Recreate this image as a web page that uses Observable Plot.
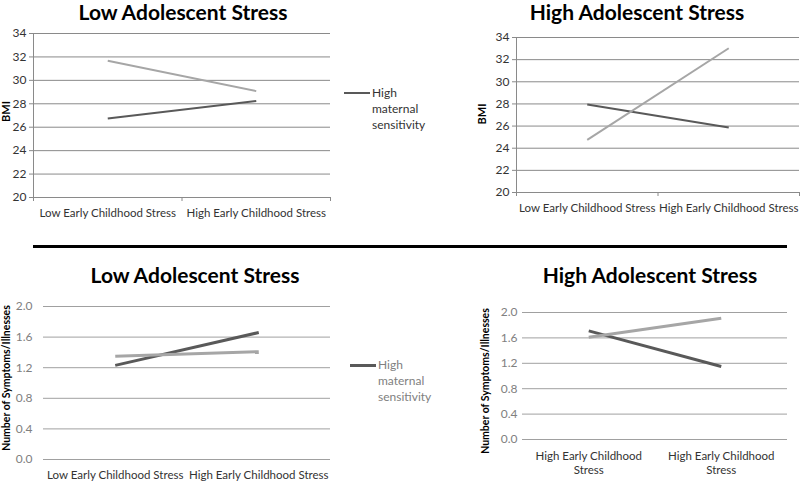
<!DOCTYPE html>
<html><head><meta charset="utf-8">
<script src="https://cdn.jsdelivr.net/npm/d3@7"></script>
<script src="https://cdn.jsdelivr.net/npm/@observablehq/plot@0.6"></script>
<style>
body{margin:0;background:#fff;font-family:Lato,"Open Sans",sans-serif}
#chart{position:relative;width:800px;height:482px;overflow:hidden;background:#fff}
.panel{position:absolute}
.title{position:absolute;transform:translate(-50%,-50%);font-weight:bold;font-size:21px;white-space:nowrap;color:#000;line-height:1;font-family:Lato,sans-serif}
.legend{position:absolute;display:flex;align-items:flex-start;font-size:12px;line-height:16px;font-family:Lato,sans-serif}
.legend .sw{display:inline-block;width:26px;margin-right:2px}
.legend .tx{width:62px}
.sep{position:absolute;background:#000}
</style>
</head><body>
<div id="chart"></div>
<script>
// ---- data ----
const categories = ["Low Early Childhood Stress", "High Early Childhood Stress"];
const categoriesP4 = ["High Early Childhood Stress", "High Early Childhood Stress"];
const seriesNames = ["High maternal sensitivity", "Low maternal sensitivity"];
const titles = ["Low Adolescent Stress", "High Adolescent Stress", "Low Adolescent Stress", "High Adolescent Stress"];
const yTitleBMI = "BMI";
const yTitleSym = "Number of Symptoms/Illnesses";
const bmiTicks = [20, 22, 24, 26, 28, 30, 32, 34];
const symTicks = [0, 0.4, 0.8, 1.2, 1.6, 2.0];
const bmiLowAdolHigh = [26.75, 28.24];
const bmiLowAdolLow = [31.67, 29.08];
const bmiHighAdolHigh = [27.95, 25.87];
const bmiHighAdolLow = [24.76, 33.03];
const symLowAdolHigh = [1.23, 1.66];
const symLowAdolLow = [1.35, 1.41];
const symHighAdolHigh = [1.71, 1.15];
const symHighAdolLow = [1.61, 1.91];

const DARK = "#595959", LIGHT = "#a6a6a6";

function rows(high, low) {
  return [
    ...high.map((v, i) => ({pos: i + 0.5, value: v, series: seriesNames[0]})),
    ...low.map((v, i) => ({pos: i + 0.5, value: v, series: seriesNames[1]}))
  ];
}

function makePlot(cfg) {
  const data = rows(cfg.high, cfg.low);
  const marks = [Plot.gridY(cfg.ticks, {stroke: cfg.gridColor, strokeOpacity: 1})];
  if (cfg.axisLines) {
    marks.push(Plot.axisY({ticks: cfg.ticks, tickSize: 4, tickPadding: 3, stroke: cfg.gridColor, fill: "#333", label: null, fontSize: 12}));
    marks.push(Plot.ruleX([0], {stroke: cfg.gridColor}));
    marks.push(Plot.axisX({ticks: [0, 1, 2], tickSize: 4, tickFormat: () => "", stroke: cfg.gridColor, label: null}));
  } else {
    marks.push(Plot.axisY({ticks: cfg.ticks, tickSize: 0, tickPadding: cfg.yPad, tickFormat: d3.format(".1f"), fill: "#808080", label: null, fontSize: 12}));
  }
  marks.push(Plot.axisX({ticks: [0.5, 1.5], tickSize: 0, tickPadding: cfg.xPad,
    tickFormat: d => cfg.labelFmt(cfg.labels[Math.floor(d)]), fill: "#333", label: null, fontSize: 11.5, lineHeight: 1.2}));
  marks.push(Plot.line(data, {x: "pos", y: "value", z: "series", stroke: "series", strokeWidth: cfg.lineW, strokeLinecap: "butt"}));
  marks.push(Plot.text([cfg.yTitle], {frameAnchor: "left", textAnchor: "middle", text: d => d, rotate: -90, dx: cfg.titleDx, dy: cfg.titleDy || 0, fontWeight: "bold", fontSize: cfg.yTitleSize, fill: "#000"}));
  return Plot.plot({
    width: cfg.width, height: cfg.height,
    marginTop: cfg.mt, marginRight: cfg.mr, marginBottom: cfg.mb, marginLeft: cfg.ml,
    x: {domain: [0, 2], axis: null},
    y: {domain: [cfg.ticks[0], cfg.ticks[cfg.ticks.length - 1]], axis: null},
    color: {domain: seriesNames, range: [DARK, LIGHT]},
    style: {fontFamily: "Lato, sans-serif", fontSize: "12px", background: "transparent", overflow: "visible"},
    marks
  });
}

const chart = document.getElementById("chart");
function place(el, left, top) {
  const d = document.createElement("div");
  d.className = "panel";
  d.style.left = left + "px"; d.style.top = top + "px";
  d.appendChild(el);
  chart.appendChild(d);
}
function addTitle(text, cx, cy) {
  const t = document.createElement("div");
  t.className = "title"; t.textContent = text;
  t.style.left = cx + "px"; t.style.top = cy + "px";
  chart.appendChild(t);
}
function addLegend(left, top, lineW, textColor) {
  const l = document.createElement("div");
  l.className = "legend";
  l.style.left = left + "px"; l.style.top = top + "px"; l.style.color = textColor;
  const sw = document.createElement("span");
  sw.className = "sw"; sw.style.height = lineW + "px"; sw.style.background = DARK;
  sw.style.marginTop = (8 - lineW / 2) + "px";
  const tx = document.createElement("span");
  tx.className = "tx"; tx.textContent = seriesNames[0];
  l.appendChild(sw); l.appendChild(tx);
  chart.appendChild(l);
}

const id = s => s;
// Panel 1
place(makePlot({width: 340, height: 200, mt: 8, mr: 10, mb: 28, ml: 33, ticks: bmiTicks,
  high: bmiLowAdolHigh, low: bmiLowAdolLow, gridColor: "#8a8a8a", axisLines: true,
  labels: categories, labelFmt: id, xPad: 10, lineW: 2, yTitle: yTitleBMI, titleDx: -27, titleDy: -4, yTitleSize: 11}), 0, 25);
addTitle(titles[0], 183, 11);
addLegend(344, 85, 2, "#333");

// Panel 2
place(makePlot({width: 360, height: 200, mt: 12, mr: 1, mb: 33, ml: 76, ticks: bmiTicks,
  high: bmiHighAdolHigh, low: bmiHighAdolLow, gridColor: "#8a8a8a", axisLines: true,
  labels: categories, labelFmt: id, xPad: 10, lineW: 2, yTitle: yTitleBMI, titleDx: -34, titleDy: -1, yTitleSize: 11}), 440, 25);
addTitle(titles[1], 637, 11);

// separator
const sep = document.createElement("div");
sep.className = "sep";
Object.assign(sep.style, {left: "33px", top: "245px", width: "754px", height: "3px"});
chart.appendChild(sep);

// Panel 3
place(makePlot({width: 340, height: 187, mt: 11, mr: 10, mb: 23, ml: 43, ticks: symTicks,
  high: symLowAdolHigh, low: symLowAdolLow, gridColor: "#a0a0a0", axisLines: false, yPad: 11,
  labels: categories, labelFmt: id, xPad: 10, lineW: 3, yTitle: yTitleSym, titleDx: -37, titleDy: -5, yTitleSize: 10.5}), 0, 295);
addTitle(titles[2], 195, 274);
addLegend(350, 357, 3, "#808080");

// Panel 4
place(makePlot({width: 350, height: 182, mt: 12, mr: 13, mb: 43, ml: 72, ticks: symTicks,
  high: symHighAdolHigh, low: symHighAdolLow, gridColor: "#a0a0a0", axisLines: false, yPad: 5,
  labels: categoriesP4, labelFmt: s => s.replace(/ Stress$/, "\nStress"), xPad: 11, lineW: 3,
  yTitle: yTitleSym, titleDx: -37, titleDy: 5, yTitleSize: 10.5}), 450, 300);
addTitle(titles[3], 650, 274);
</script>
</body></html>
